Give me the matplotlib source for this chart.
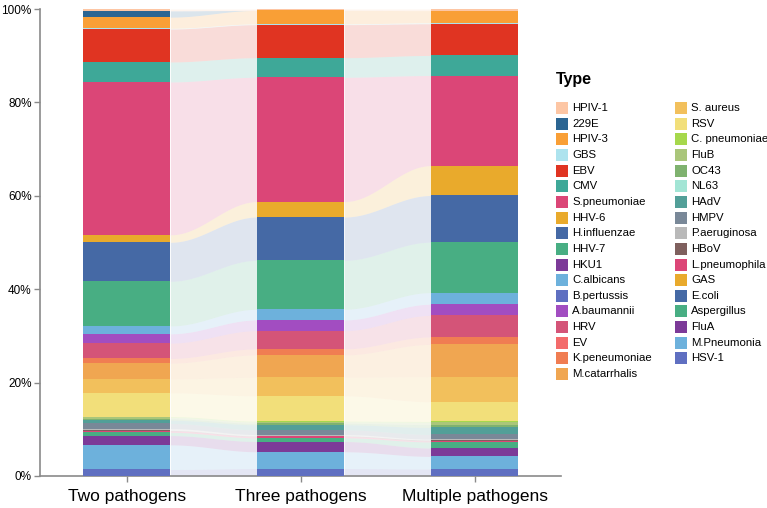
import numpy as np
import matplotlib
matplotlib.use("Agg")
import matplotlib.pyplot as plt
from matplotlib.patches import Rectangle
from matplotlib.ticker import FuncFormatter

plt.rcParams['font.family'] = ['Liberation Sans', 'DejaVu Sans']

groups = ["Two pathogens", "Three pathogens", "Multiple pathogens"]

# legend order (top of stack first)
types = ["HPIV-1", "229E", "HPIV-3", "GBS", "EBV", "CMV", "S.pneumoniae", "HHV-6",
         "H.influenzae", "HHV-7", "HKU1", "C.albicans", "B.pertussis", "A.baumannii",
         "HRV", "EV", "K.peneumoniae", "M.catarrhalis",
         "S. aureus", "RSV", "C. pneumoniae", "FluB", "OC43", "NL63", "HAdV", "HMPV",
         "P.aeruginosa", "HBoV", "L.pneumophila", "GAS", "E.coli", "Aspergillus",
         "FluA", "M.Pneumonia", "HSV-1"]

colors = ["#fdc6a4", "#2b6592", "#f99f36", "#ade3ee", "#e03422", "#3ea898", "#db4677",
          "#e9aa2c", "#4569a5", "#48ae83", "#7c3a98", "#6db1dc", "#5f6fc1", "#a24dc1",
          "#d45478", "#f36b6b", "#f07d52", "#f0a651",
          "#f2c05c", "#f2df7a", "#a6d84c", "#aac67a", "#7fb26f", "#a2e5d5", "#529f98",
          "#798898", "#b9b9b9", "#7f605e", "#dc4677", "#e9aa2c", "#4569a5", "#48ae83",
          "#7c3a98", "#6db1dc", "#5f6fc1"]

# percentage share in each group: [Two, Three, Multiple]
v_hpiv1 = [0.4, 0.3, 0.35]
v_229e = [1.35, 0.0, 0.0]
v_hpiv3 = [2.4, 2.9, 2.6]
v_gbs = [0.15, 0.15, 0.2]
v_ebv = [7.1, 7.1, 6.8]
v_cmv = [4.3, 4.2, 4.3]
v_spn = [32.9, 26.7, 19.3]
v_hhv6 = [1.6, 3.3, 6.4]
v_hinf = [8.4, 9.3, 10.0]
v_hhv7 = [9.6, 10.5, 10.8]
v_hku1 = [0.0, 0.0, 0.0]
v_calb = [1.7, 2.3, 2.5]
v_bper = [0.0, 0.0, 0.0]
v_abau = [2.0, 2.3, 2.4]
v_hrv = [3.3, 3.9, 4.6]
v_ev = [0.0, 0.0, 0.0]
v_kpn = [1.0, 1.3, 1.6]
v_mcat = [3.4, 4.8, 6.9]
v_saur = [3.0, 4.0, 5.4]
v_rsv = [5.1, 5.4, 4.2]
v_cpn = [0.2, 0.2, 0.2]
v_flub = [0.3, 0.3, 0.5]
v_oc43 = [0.3, 0.3, 0.6]
v_nl63 = [0.0, 0.0, 0.0]
v_hadv = [0.7, 1.1, 1.5]
v_hmpv = [1.1, 1.0, 1.0]
v_paer = [0.4, 0.3, 0.2]
v_hbov = [0.1, 0.1, 0.2]
v_lpn = [0.3, 0.3, 0.2]
v_gas = [0.0, 0.0, 0.0]
v_ecoli = [0.0, 0.0, 0.0]
v_asp = [0.7, 0.8, 1.3]
v_flua = [2.0, 2.2, 1.8]
v_mpn = [5.3, 3.6, 2.7]
v_hsv1 = [1.4, 1.6, 1.5]

values = [v_hpiv1, v_229e, v_hpiv3, v_gbs, v_ebv, v_cmv, v_spn, v_hhv6, v_hinf, v_hhv7,
          v_hku1, v_calb, v_bper, v_abau, v_hrv, v_ev, v_kpn, v_mcat, v_saur, v_rsv,
          v_cpn, v_flub, v_oc43, v_nl63, v_hadv, v_hmpv, v_paer, v_hbov, v_lpn, v_gas,
          v_ecoli, v_asp, v_flua, v_mpn, v_hsv1]

data = np.array(values, dtype=float)
data = data / data.sum(axis=0, keepdims=True) * 100.0

fig = plt.figure(figsize=(7.67, 5.08), dpi=100)
ax = fig.add_axes([40 / 767, 32 / 508, (561.5 - 40) / 767, (476 - 9) / 508])

x = np.arange(len(groups))
width = 0.5

# stack from bottom: reversed legend order
order = list(range(len(types)))[::-1]
bottoms = np.zeros(len(groups))
lows = {}
highs = {}
for i in order:
    lows[i] = bottoms.copy()
    highs[i] = bottoms + data[i]
    ax.bar(x, data[i], width=width, bottom=bottoms, color=colors[i], linewidth=0, zorder=3)
    bottoms = bottoms + data[i]

# flows
t = np.linspace(0, 1, 60)
s = (1 - np.cos(np.pi * t)) / 2
for i in order:
    for g in range(len(groups) - 1):
        if data[i][g] == 0 and data[i][g + 1] == 0:
            continue
        xs = (g + width / 2) + t * (1 - width)
        lo = lows[i][g] + (lows[i][g + 1] - lows[i][g]) * s
        hi = highs[i][g] + (highs[i][g + 1] - highs[i][g]) * s
        ax.fill_between(xs, lo, hi, color=colors[i], alpha=0.17, linewidth=0, zorder=2)

ax.set_xlim(-0.5, 2.5)
ax.set_ylim(0, 100)
ax.set_xticks(x)
ax.set_xticklabels(groups, fontsize=12.5)
ax.set_yticks([0, 20, 40, 60, 80, 100])
ax.yaxis.set_major_formatter(FuncFormatter(lambda v, p: f"{int(v)}%"))
ax.tick_params(axis='y', labelsize=8.5, color='#8a8a8a', length=4, width=1, pad=2)
ax.tick_params(axis='x', color='#8a8a8a', length=4, width=1, pad=5)
for sp in ['top', 'right']:
    ax.spines[sp].set_visible(False)
for sp in ['left', 'bottom']:
    ax.spines[sp].set_color('#8a8a8a')
    ax.spines[sp].set_linewidth(1.2)

# legend drawn manually
W, H = 767.0, 508.0
fig.text(556 / W, 1 - 80 / H, "Type", fontsize=11.5, fontweight='bold', va='center', ha='left')
col_x = [556, 675]
y0 = 108
step = 15.65
sw = 12
for k, name in enumerate(types):
    col = 0 if k < 18 else 1
    row = k if k < 18 else k - 18
    yc = y0 + row * step
    fig.patches.append(Rectangle((col_x[col] / W, 1 - (yc + sw / 2) / H), sw / W, sw / H,
                                 transform=fig.transFigure, facecolor=colors[k],
                                 edgecolor='none'))
    fig.text((col_x[col] + sw + 4) / W, 1 - yc / H, name, fontsize=8.2, va='center', ha='left')

fig.savefig("out.png", dpi=100)
